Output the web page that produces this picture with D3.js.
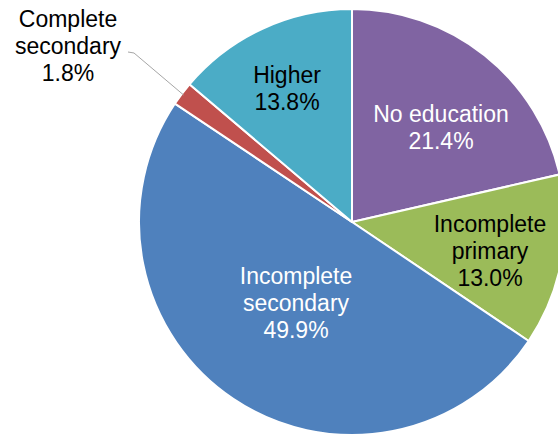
<!DOCTYPE html>
<html><head><meta charset="utf-8">
<script src="https://cdn.jsdelivr.net/npm/d3@7"></script>
<style>html,body{margin:0;padding:0;background:#fff;overflow:hidden}</style>
</head><body>
<svg id="chart" width="558" height="436"></svg>
<script>
const categories = ["No education", "Incomplete primary", "Incomplete secondary", "Complete secondary", "Higher"];
const values = [21.4, 13.0, 49.9, 1.8, 13.8];
const labelLines = [["No education"], ["Incomplete", "primary"], ["Incomplete", "secondary"], ["Complete", "secondary"], ["Higher"]];
const colors = ["#8064A2", "#9BBB59", "#4F81BD", "#C0504D", "#4BACC6"];
const textColors = ["#fff", "#000", "#fff", "#000", "#000"];

const svg = d3.select("#chart");
const cx = 352, cy = 222, R = 213;
const g = svg.append("g").attr("transform", `translate(${cx},${cy})`);

const data = categories.map((c, i) => ({cat: c, value: values[i], i}));
const pie = d3.pie().sort(null).value(d => d.value);
const arcs = pie(data);
const arc = d3.arc().innerRadius(0).outerRadius(R);

g.selectAll("path").data(arcs).join("path")
  .attr("d", arc)
  .attr("fill", d => colors[d.data.i])
  .attr("stroke", "#fff")
  .attr("stroke-width", 2)
  .attr("stroke-linejoin", "round");

// label placement (relative to center, px) for in-slice labels
const labelPos = {
  0: [89, -100],
  1: [138, 10],
  2: [-56, 62],
  4: [-65, -139]
};
const lh = 27;
const fontFamily = "'Liberation Sans', Arial, sans-serif";

arcs.forEach(a => {
  const i = a.data.i;
  const lines = labelLines[i].concat([a.data.value.toFixed(1) + "%"]);
  let x, y;
  if (i === 3) {
    x = 68 - cx; y = 27 - cy;
  } else {
    [x, y] = labelPos[i];
  }
  const t = g.append("text")
    .attr("text-anchor", "middle")
    .attr("font-family", fontFamily)
    .attr("font-size", "23px")
    .attr("fill", textColors[i]);
  lines.forEach((l, k) => {
    t.append("tspan").attr("x", x).attr("y", y + k * lh).text(l);
  });
});

// leader line for Complete secondary
const cs = arcs[3];
const mid = (cs.startAngle + cs.endAngle) / 2;
const px = Math.sin(mid) * (R - 2), py = -Math.cos(mid) * (R - 2);
g.append("polyline")
  .attr("points", `${128 - cx},${52 - cy} ${134 - cx},${53 - cy} ${px},${py}`)
  .attr("fill", "none")
  .attr("stroke", "#A6A6A6")
  .attr("stroke-width", 1);
</script>
</body></html>
